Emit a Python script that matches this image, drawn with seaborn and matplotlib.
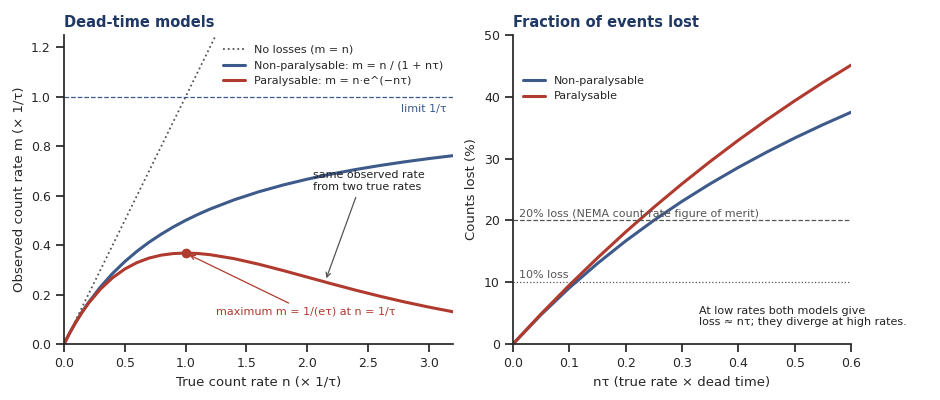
import matplotlib
matplotlib.use("Agg")
import matplotlib.pyplot as plt
import seaborn as sns

sns.set_theme(style="ticks")
plt.rcParams['font.family'] = ['DejaVu Sans']

n_vals = [0, 0.05, 0.1, 0.15, 0.2, 0.3, 0.4, 0.5, 0.6, 0.7, 0.8, 0.9, 1.0, 1.1, 1.2, 1.4, 1.6, 1.8, 2.0, 2.2, 2.4, 2.6, 2.8, 3.0, 3.2]
m_nonpar = [0, 0.0476, 0.0909, 0.1304, 0.1667, 0.2308, 0.2857, 0.3333, 0.375, 0.4118, 0.4444, 0.4737, 0.5, 0.5238,
            0.5455, 0.5833, 0.6154, 0.6429, 0.6667, 0.6875, 0.7059, 0.7222, 0.7368, 0.75, 0.7619]
m_par = [0, 0.0476, 0.0905, 0.1291, 0.1637, 0.2222, 0.2681, 0.3033, 0.3293, 0.3476, 0.3595, 0.3659, 0.3679, 0.3662,
         0.3614, 0.3452, 0.3230, 0.2975, 0.2707, 0.2438, 0.2177, 0.1931, 0.1703, 0.1494, 0.1304]
ident_x = [0, 1.25]
ident_y = [0, 1.25]

x_vals = [0, 0.05, 0.1, 0.15, 0.2, 0.25, 0.3, 0.35, 0.4, 0.45, 0.5, 0.55, 0.6]
loss_nonpar = [0, 4.76, 9.09, 13.04, 16.67, 20.0, 23.08, 25.93, 28.57, 31.03, 33.33, 35.48, 37.5]
loss_par = [0, 4.88, 9.52, 13.93, 18.13, 22.12, 25.92, 29.53, 32.97, 36.24, 39.35, 42.31, 45.12]

BLUE = "#3d5a8a"
RED = "#b03a2e"
NAVY = "#1f3864"

fig = plt.figure(figsize=(9.4, 4), dpi=100)
ax1 = fig.add_axes([64/940, 56/400, 389/940, 309/400])
ax2 = fig.add_axes([513/940, 56/400, 338/940, 309/400])

sns.lineplot(x=ident_x, y=ident_y, ax=ax1, color="#555555", ls=":", lw=1.3, label="No losses (m = n)")
sns.lineplot(x=n_vals, y=m_nonpar, ax=ax1, color=BLUE, lw=2.2, label="Non-paralysable: m = n / (1 + nτ)")
sns.lineplot(x=n_vals, y=m_par, ax=ax1, color=RED, lw=2.2, label="Paralysable: m = n·e^(−nτ)")
ax1.axhline(1.0, color=BLUE, ls="--", lw=0.9)
ax1.text(3.15, 0.94, "limit 1/τ", color=BLUE, fontsize=8, ha="right")
ax1.plot([1.0], [0.3679], "o", color=RED, ms=6)
ax1.annotate("maximum m = 1/(eτ) at n = 1/τ", xy=(1.0, 0.3679), xytext=(1.25, 0.12),
             color=RED, fontsize=8, arrowprops=dict(arrowstyle="->", color=RED, lw=0.9, shrinkA=0, shrinkB=3),
             ha="left")
ax1.annotate("same observed rate\nfrom two true rates", xy=(2.15, 0.255), xytext=(2.05, 0.625),
             fontsize=8, color="#222222", arrowprops=dict(arrowstyle="->", color="#555555", lw=0.9, relpos=(0.4, 0)))
ax1.set_xlim(0, 3.2)
ax1.set_ylim(0, 1.25)
ax1.set_xlabel("True count rate n (× 1/τ)", fontsize=9.5)
ax1.set_ylabel("Observed count rate m (× 1/τ)", fontsize=9.5)
ax1.set_title("Dead-time models", loc="left", fontsize=10.5, fontweight="bold", color=NAVY)
ax1.legend(loc="upper right", frameon=False, fontsize=8)
ax1.tick_params(labelsize=9)

sns.lineplot(x=x_vals, y=loss_nonpar, ax=ax2, color=BLUE, lw=2.2, label="Non-paralysable")
sns.lineplot(x=x_vals, y=loss_par, ax=ax2, color=RED, lw=2.2, label="Paralysable")
ax2.axhline(20, color="#555555", ls="--", lw=0.9)
ax2.axhline(10, color="#555555", ls=":", lw=0.9)
ax2.text(0.01, 20.6, "20% loss (NEMA count-rate figure of merit)", fontsize=8, color="#555555")
ax2.text(0.01, 10.6, "10% loss", fontsize=8, color="#555555")
ax2.text(0.33, 3.0, "At low rates both models give\nloss ≈ nτ; they diverge at high rates.", fontsize=8, color="#222222")
ax2.set_xlim(0, 0.6)
ax2.set_ylim(0, 50)
ax2.set_xlabel("nτ (true rate × dead time)", fontsize=9.5)
ax2.set_ylabel("Counts lost (%)", fontsize=9.5)
ax2.set_title("Fraction of events lost", loc="left", fontsize=10.5, fontweight="bold", color=NAVY)
ax2.legend(loc="upper left", bbox_to_anchor=(0, 0.9), frameon=False, fontsize=8)
ax2.tick_params(labelsize=9)

sns.despine(fig)
fig.savefig("out.png", dpi=100)
